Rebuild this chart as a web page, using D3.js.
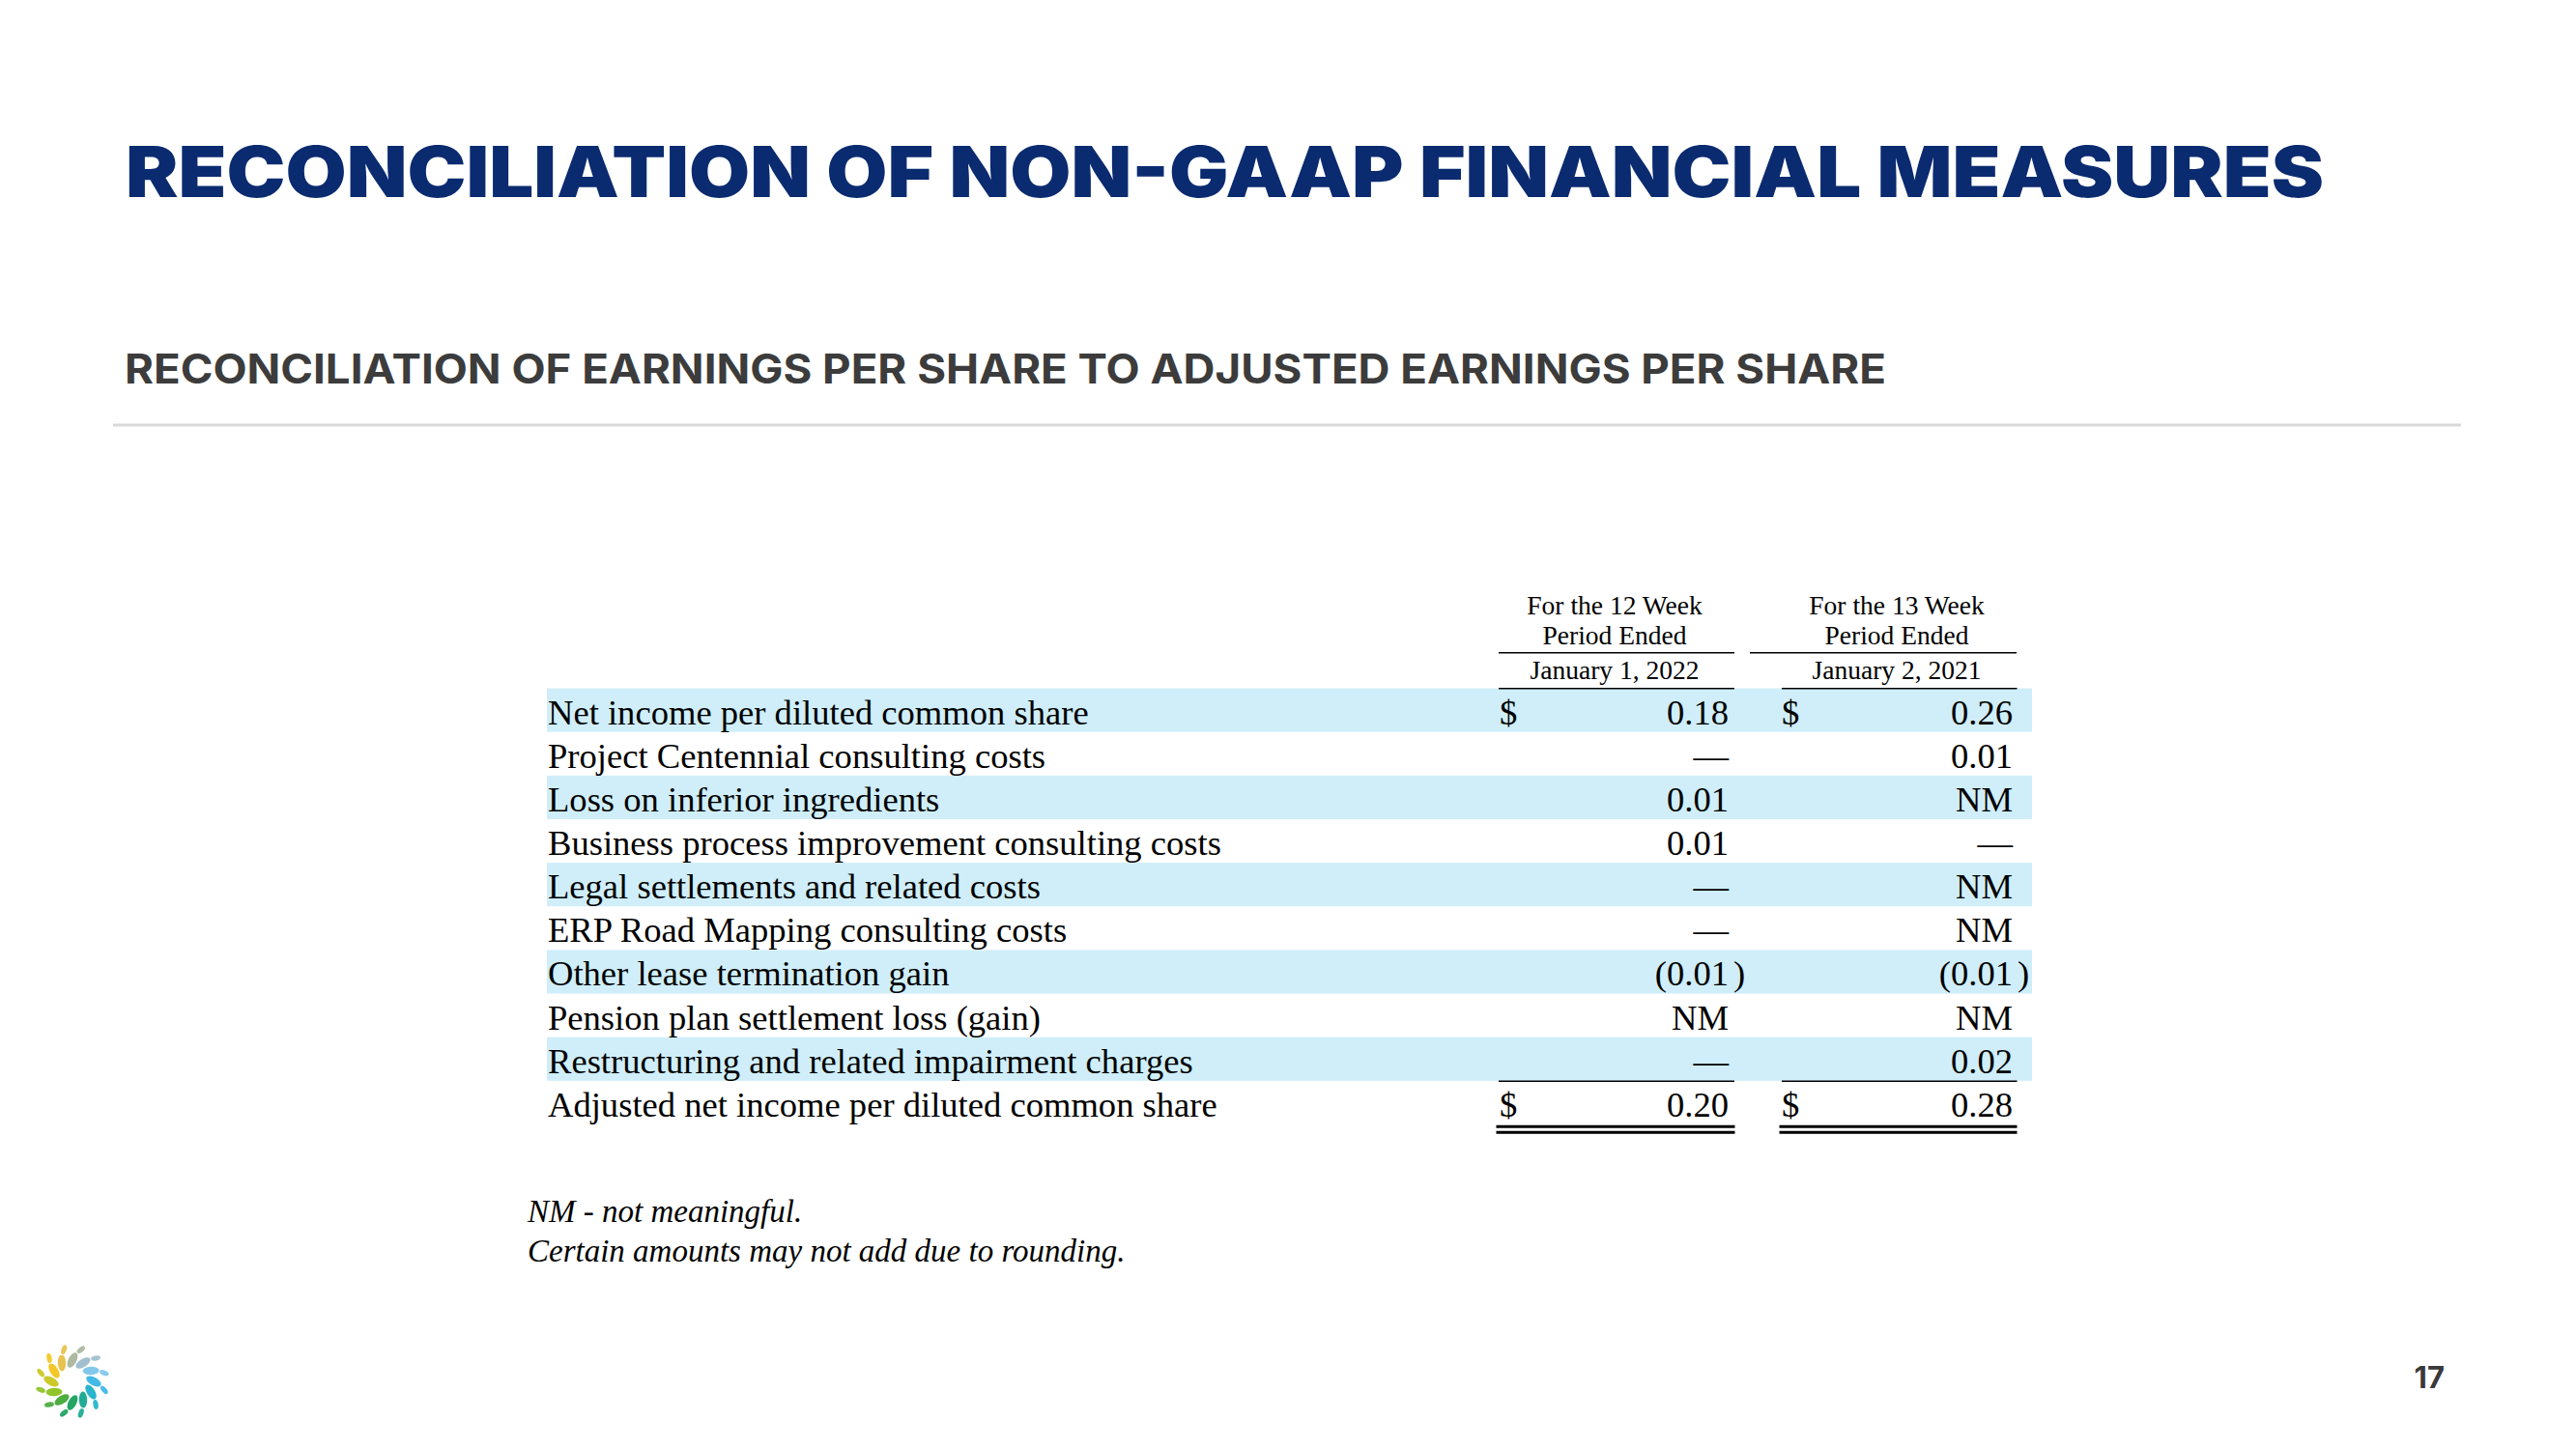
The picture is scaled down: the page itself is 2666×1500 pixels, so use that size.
<!DOCTYPE html>
<html>
<head>
<meta charset="utf-8">
<script src="https://cdn.jsdelivr.net/npm/d3@7"></script>
<style>
  html, body { margin: 0; padding: 0; background: #ffffff; }
  svg { display: block; }
</style>
</head>
<body>
<script>
// ---------- DATA ----------
const title = "RECONCILIATION OF NON-GAAP FINANCIAL MEASURES";
const subtitle = "RECONCILIATION OF EARNINGS PER SHARE TO ADJUSTED EARNINGS PER SHARE";
const headerCol1 = ["For the 12 Week", "Period Ended", "January 1, 2022"];
const headerCol2 = ["For the 13 Week", "Period Ended", "January 2, 2021"];
const rowLabels = [
  "Net income per diluted common share",
  "Project Centennial consulting costs",
  "Loss on inferior ingredients",
  "Business process improvement consulting costs",
  "Legal settlements and related costs",
  "ERP Road Mapping consulting costs",
  "Other lease termination gain",
  "Pension plan settlement loss (gain)",
  "Restructuring and related impairment charges",
  "Adjusted net income per diluted common share"
];
// null = em dash (zero), "NM" = not meaningful
const period2022 = [0.18, null, 0.01, 0.01, null, null, -0.01, "NM", null, 0.20];
const period2021 = [0.26, 0.01, "NM", null, "NM", "NM", -0.01, "NM", 0.02, 0.28];
const dollarRows = [0, 9];
const footnotes = ["NM - not meaningful.", "Certain amounts may not add due to rounding."];
const pageNumber = "17";
const logoColors = ["#a9b59c", "#9cbccb", "#7cc5e9", "#3ab5e6", "#1db0c9", "#14a88f",
                    "#18a05c", "#42a936", "#8cc21f", "#c9c71f", "#f4c41a", "#e7bf45"];

// ---------- SETUP ----------
const W = 2666, H = 1500;
const svg = d3.select("body").append("svg").attr("width", W).attr("height", H);
svg.append("rect").attr("width", W).attr("height", H).attr("fill", "#fff");

const SERIF = "'Liberation Serif', 'Times New Roman', serif";
const SANS = "Inter, 'Noto Sans', sans-serif";

// Title
svg.append("text")
  .attr("x", 130).attr("y", 204)
  .attr("font-family", SANS).attr("font-weight", 900).attr("font-size", 73)
  .attr("fill", "#0b2b70")
  .attr("textLength", 2275).attr("lengthAdjust", "spacingAndGlyphs")
  .text(title);

// Subtitle
svg.append("text")
  .attr("x", 129).attr("y", 397)
  .attr("font-family", SANS).attr("font-weight", 700).attr("font-size", 42)
  .attr("fill", "#3c3c3c")
  .attr("textLength", 1823).attr("lengthAdjust", "spacingAndGlyphs")
  .text(subtitle);

// Separator
svg.append("rect").attr("x", 117).attr("y", 438.5).attr("width", 2430).attr("height", 3)
  .attr("fill", "#d9d9d9");

// ---------- TABLE ----------
const rowTop = 712.5, rowH = 45.15;
const y = d3.scaleBand().domain(d3.range(rowLabels.length))
  .range([rowTop, rowTop + rowH * rowLabels.length]).paddingInner(0).paddingOuter(0);

const tableX0 = 566, tableX1 = 2103;
const cols = [
  { values: period2022, header: headerCol1, dollarX: 1552, right: 1789, center: 1671,
    lineA: [1551, 1795], lineB: [1551, 1795], dbl: [1548.5, 1795.5] },
  { values: period2021, header: headerCol2, dollarX: 1844, right: 2083, center: 1963,
    lineA: [1811, 2087], lineB: [1844, 2087.5], dbl: [1841.5, 2087.5] }
];

// Bands
svg.append("g").selectAll("rect")
  .data(d3.range(rowLabels.length).filter(i => i % 2 === 0 && i < rowLabels.length - 1))
  .join("rect")
  .attr("x", tableX0).attr("width", tableX1 - tableX0)
  .attr("y", i => y(i)).attr("height", y.bandwidth())
  .attr("fill", "#cfeefa");

// Labels
svg.append("g").selectAll("text").data(rowLabels).join("text")
  .attr("x", 567).attr("y", (d, i) => y(i) + 37)
  .attr("font-family", SERIF).attr("font-size", 36.6).attr("fill", "#000")
  .text(d => d);

// Header lines
const headerBaselines = [635.7, 666.7, 703.3];
cols.forEach(c => {
  const g = svg.append("g");
  g.selectAll("text").data(c.header).join("text")
    .attr("x", c.center).attr("y", (d, i) => headerBaselines[i])
    .attr("text-anchor", "middle")
    .attr("font-family", SERIF).attr("font-size", 27.5).attr("fill", "#000")
    .text(d => d);
  // underline under "Period Ended"
  g.append("line").attr("x1", c.lineA[0]).attr("x2", c.lineA[1])
    .attr("y1", 675.7).attr("y2", 675.7).attr("stroke", "#000").attr("stroke-width", 1.5);
  // underline under date
  g.append("line").attr("x1", c.lineB[0]).attr("x2", c.lineB[1])
    .attr("y1", 712.7).attr("y2", 712.7).attr("stroke", "#000").attr("stroke-width", 1.5);
  // line above total
  const yt = y(rowLabels.length - 1);
  g.append("line").attr("x1", c.lineB[0]).attr("x2", c.lineB[1])
    .attr("y1", yt + 0.5).attr("y2", yt + 0.5).attr("stroke", "#000").attr("stroke-width", 1.5);
  // double underline
  const yb = yt + rowH;
  [yb + 2.3, yb + 8.2].forEach(yy => {
    g.append("line").attr("x1", c.dbl[0]).attr("x2", c.dbl[1])
      .attr("y1", yy).attr("y2", yy).attr("stroke", "#000").attr("stroke-width", 3);
  });

  // values
  c.values.forEach((v, i) => {
    const by = y(i) + 37;
    let txt;
    if (v === null) txt = "\u2014";
    else if (v === "NM") txt = "NM";
    else if (v < 0) txt = "(" + d3.format(".2f")(-v);
    else txt = d3.format(".2f")(v);
    g.append("text").attr("x", c.right).attr("y", by).attr("text-anchor", "end")
      .attr("font-family", SERIF).attr("font-size", 36.6).attr("fill", "#000").text(txt);
    if (typeof v === "number" && v < 0) {
      g.append("text").attr("x", c.right + 5).attr("y", by)
        .attr("font-family", SERIF).attr("font-size", 36.6).attr("fill", "#000").text(")");
    }
    if (dollarRows.includes(i)) {
      g.append("text").attr("x", c.dollarX).attr("y", by)
        .attr("font-family", SERIF).attr("font-size", 36.6).attr("fill", "#000").text("$");
    }
  });
});

// Footnotes
svg.append("g").selectAll("text").data(footnotes).join("text")
  .attr("x", 546).attr("y", (d, i) => 1265 + i * 41)
  .attr("font-family", SERIF).attr("font-style", "italic").attr("font-size", 33)
  .attr("fill", "#000").text(d => d);

// Page number
svg.append("text").attr("x", 2530).attr("y", 1436.5).attr("text-anchor", "end")
  .attr("font-family", SANS).attr("font-weight", 700).attr("font-size", 31)
  .attr("fill", "#3a3a3a").text(pageNumber);

// Logo (decorative leaf ring)
const logo = svg.append("g").attr("transform", "translate(75,1430)");
const n = logoColors.length;
const angle = d3.scaleLinear().domain([0, n]).range([0, 360]);
logo.selectAll("ellipse.inner").data(logoColors).join("ellipse")
  .attr("class", "inner")
  .attr("cx", 0).attr("cy", 0).attr("rx", 4.2).attr("ry", 8.5)
  .attr("transform", (d, i) => `rotate(${angle(i)}) translate(0,-22) rotate(28)`)
  .attr("fill", d => d).attr("opacity", 0.95);
logo.selectAll("ellipse.outer").data(logoColors).join("ellipse")
  .attr("class", "outer")
  .attr("cx", 0).attr("cy", 0).attr("rx", 2.6).attr("ry", 5)
  .attr("transform", (d, i) => `rotate(${angle(i) + 15}) translate(0,-34) rotate(35)`)
  .attr("fill", d => d).attr("opacity", 0.9);
</script>
</body>
</html>
